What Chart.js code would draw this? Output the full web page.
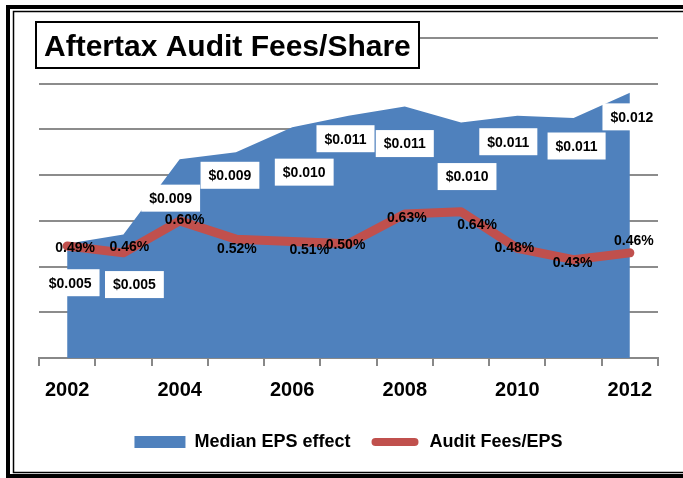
<!DOCTYPE html>
<html>
<head>
<meta charset="utf-8">
<script src="https://cdn.jsdelivr.net/npm/chart.js@4/dist/chart.umd.min.js"></script>
<style>
  body { margin: 0; background: #fff; }
  canvas { display: block; }
</style>
</head>
<body>
<canvas id="grafica" width="683" height="478"></canvas>
<script>
// data
var years = ['2002', '2003', '2004', '2005', '2006', '2007', '2008', '2009', '2010', '2011', '2012'];
var shownYears = ['2002', '2004', '2006', '2008', '2010', '2012'];
var medianEps = [0.0050, 0.0054, 0.0087, 0.0090, 0.0101, 0.0106, 0.0110, 0.0103, 0.0106, 0.0105, 0.0116];
var auditFeesPct = [0.49, 0.46, 0.60, 0.52, 0.51, 0.50, 0.63, 0.64, 0.48, 0.43, 0.46];
var titleText = 'Aftertax Audit Fees/Share';

// label nudges (px) so the boxes sit roughly where Excel put them
var epsDx = [3, 11, -9, -6, 12, -3, 0, 6, -9, 3, 2];
var epsDy = [39, 50, 39, 23, 45, 23, 37, 54, 26, 28, 24];
var pctDx = [8, 6, 5, 1, 17, -3, 2, 16, -3, -1, 4];
var pctDy = [2, -6, -1, 10, 9, 1, 4, 13, 0, 3, -12];

var FONT = "'Liberation Sans', Arial, sans-serif";

var framePlugin = {
  id: 'frame',
  beforeDraw: function (chart) {
    var ctx = chart.ctx;
    ctx.save();
    ctx.fillStyle = '#fff';
    ctx.fillRect(0, 0, chart.width, chart.height);
    ctx.strokeStyle = '#000';
    ctx.lineWidth = 4;
    ctx.strokeRect(8, 7, 700, 469);
    ctx.lineWidth = 1.5;
    ctx.strokeRect(13.5, 11.5, 700, 461);
    ctx.restore();
  },
  afterDraw: function (chart) {
    var ctx = chart.ctx;
    ctx.save();
    ctx.fillStyle = '#fff';
    ctx.fillRect(36, 22, 383, 46);
    ctx.strokeStyle = '#000';
    ctx.lineWidth = 2;
    ctx.strokeRect(36, 22, 383, 46);
    ctx.fillStyle = '#000';
    ctx.font = 'bold 30px ' + FONT;
    ctx.textBaseline = 'alphabetic';
    ctx.textAlign = 'left';
    ctx.fillText(titleText, 44, 56);
    ctx.restore();
  }
};

var labelPlugin = {
  id: 'valueLabels',
  afterDatasetsDraw: function (chart) {
    var ctx = chart.ctx;
    var area = chart.getDatasetMeta(0).data;
    var line = chart.getDatasetMeta(1).data;
    ctx.save();
    ctx.font = 'bold 14px ' + FONT;
    ctx.textAlign = 'center';
    ctx.textBaseline = 'middle';
    // percentages on the red line
    ctx.fillStyle = '#000';
    for (var i = 0; i < line.length; i++) {
      ctx.fillText(auditFeesPct[i].toFixed(2) + '%', line[i].x + pctDx[i], line[i].y + pctDy[i]);
    }
    // boxed EPS values
    for (var j = 0; j < area.length; j++) {
      var txt = '$' + medianEps[j].toFixed(3);
      var w = ctx.measureText(txt).width + 16;
      var h = 27;
      var cx = area[j].x + epsDx[j];
      var cy = area[j].y + epsDy[j];
      ctx.fillStyle = '#fff';
      ctx.fillRect(cx - w / 2, cy - h / 2, w, h);
      ctx.fillStyle = '#000';
      ctx.fillText(txt, cx, cy + 1);
    }
    ctx.restore();
  }
};

var grafica = document.getElementById('grafica');
var myChart = new Chart(grafica, {
  type: 'line',
  data: {
    labels: years,
    datasets: [{
      label: 'Median EPS effect',
      data: medianEps,
      yAxisID: 'y',
      backgroundColor: '#4F81BD',
      borderColor: '#4F81BD',
      borderWidth: 0,
      fill: 'origin',
      pointRadius: 0,
      tension: 0,
      order: 2
    }, {
      label: 'Audit Fees/EPS',
      data: auditFeesPct,
      yAxisID: 'y2',
      borderColor: '#C0504D',
      backgroundColor: '#C0504D',
      borderWidth: 9,
      borderCapStyle: 'round',
      borderJoinStyle: 'round',
      fill: false,
      pointRadius: 0,
      tension: 0,
      order: 1
    }]
  },
  options: {
    responsive: false,
    animation: false,
    devicePixelRatio: 1,
    layout: { padding: { left: 39, right: 25, top: 38, bottom: 17 } },
    font: { family: FONT },
    scales: {
      x: {
        offset: true,
        grid: { offset: true, drawOnChartArea: false, drawTicks: true, tickLength: 8, color: '#888', lineWidth: 2 },
        border: { display: true, color: '#888', width: 2 },
        ticks: {
          autoSkip: false,
          maxRotation: 0,
          padding: 12,
          color: '#000',
          font: { family: FONT, size: 20, weight: 'bold' },
          callback: function (v, i) { return shownYears.indexOf(years[i]) >= 0 ? years[i] : ''; }
        }
      },
      y: {
        position: 'left',
        min: 0,
        max: 0.014,
        ticks: { stepSize: 0.002, display: false },
        grid: { color: '#8c8c8c', lineWidth: 2, drawTicks: false },
        border: { display: false }
      },
      y2: {
        position: 'right',
        display: false,
        min: 0,
        max: 1.4
      }
    },
    plugins: {
      tooltip: { enabled: false },
      title: { display: false },
      legend: {
        position: 'bottom',
        labels: {
          boxWidth: 51,
          boxHeight: 12,
          padding: 19,
          color: '#000',
          font: { family: FONT, size: 18, weight: 'bold' },
          generateLabels: function (chart) {
            var items = Chart.defaults.plugins.legend.labels.generateLabels(chart);
            items.sort(function (a, b) { return a.datasetIndex - b.datasetIndex; });
            items.forEach(function (it) {
              if (it.datasetIndex === 1) {
                it.fillStyle = '#C0504D';
                it.strokeStyle = '#fff';
                it.lineWidth = 4;
                it.borderRadius = 6;
                it.lineDash = [];
              } else {
                it.fillStyle = '#4F81BD';
                it.strokeStyle = '#4F81BD';
                it.lineWidth = 0;
              }
            });
            return items;
          }
        }
      }
    }
  },
  plugins: [framePlugin, labelPlugin]
});
</script>
</body>
</html>
